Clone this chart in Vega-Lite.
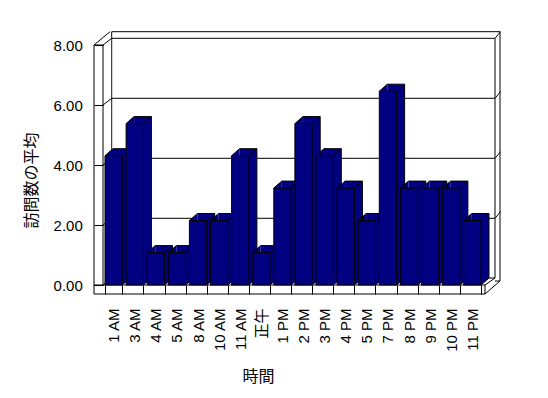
{
  "$schema": "https://vega.github.io/schema/vega-lite/v6.json",
  "width": 380,
  "height": 240,
  "autosize": {"type": "none"},
  "padding": {"left": 103, "top": 45, "right": 65, "bottom": 113},
  "background": "white",
  "config": {"view": {"stroke": null}},
  "datasets": {
    "bars": [
      {"time": "1 AM", "avg": 4.31},
      {"time": "3 AM", "avg": 5.38},
      {"time": "4 AM", "avg": 1.08},
      {"time": "5 AM", "avg": 1.08},
      {"time": "8 AM", "avg": 2.15},
      {"time": "10 AM", "avg": 2.15},
      {"time": "11 AM", "avg": 4.31},
      {"time": "正午", "avg": 1.08},
      {"time": "1 PM", "avg": 3.23},
      {"time": "2 PM", "avg": 5.38},
      {"time": "3 PM", "avg": 4.31},
      {"time": "4 PM", "avg": 3.23},
      {"time": "5 PM", "avg": 2.15},
      {"time": "7 PM", "avg": 6.46},
      {"time": "8 PM", "avg": 3.23},
      {"time": "9 PM", "avg": 3.23},
      {"time": "10 PM", "avg": 3.23},
      {"time": "11 PM", "avg": 2.15}
    ],
    "grid": [{"v": 0}, {"v": 2}, {"v": 4}, {"v": 6}, {"v": 8}],
    "mid": [{"v": 2}, {"v": 4}, {"v": 6}],
    "upper": [{"v": 2}, {"v": 4}, {"v": 6}, {"v": 8}],
    "one": [{"k": 1}]
  },
  "layer": [
    {
      "data": {"name": "one"},
      "mark": {"type": "rect", "fill": "white", "stroke": "black", "strokeWidth": 1, "xOffset": 8.7, "x2Offset": 17, "yOffset": -13.3, "y2Offset": -4},
      "encoding": {
        "x": {"value": 0}, "x2": {"value": "width"},
        "y": {"datum": 8, "type": "quantitative", "scale": {"domain": [0, 8], "nice": false}},
        "y2": {"datum": 0}
      }
    },
    {
      "data": {"name": "one"},
      "mark": {"type": "rect", "fill": "white", "x2Offset": 12, "yOffset": -7},
      "encoding": {
        "x": {"value": 0}, "x2": {"value": "width"},
        "y": {"datum": 0, "type": "quantitative"},
        "y2": {"datum": 0}
      }
    },
    {
      "data": {"name": "one"},
      "mark": {"type": "rect", "fill": "white", "stroke": "black", "strokeWidth": 1, "xOffset": 8.7, "x2Offset": 12, "yOffset": -6.7, "y2Offset": -7},
      "encoding": {
        "x": {"value": 0}, "x2": {"value": "width"},
        "y": {"datum": 8, "type": "quantitative"},
        "y2": {"datum": 0}
      }
    },
    {
      "data": {"name": "mid"},
      "mark": {"type": "rule", "stroke": "black", "strokeWidth": 1, "xOffset": 8.7, "x2Offset": 12, "yOffset": -6.7, "y2Offset": -6.7},
      "encoding": {
        "x": {"value": 0}, "x2": {"value": "width"},
        "y": {"field": "v", "type": "quantitative"},
        "y2": {"field": "v"}
      }
    },
    {
      "data": {"name": "upper"},
      "mark": {"type": "rule", "stroke": "black", "strokeWidth": 1, "xOffset": 12, "x2Offset": 17.5, "yOffset": -6.7, "y2Offset": -13.3},
      "encoding": {
        "x": {"value": "width"}, "x2": {"value": "width"},
        "y": {"field": "v", "type": "quantitative"},
        "y2": {"field": "v"}
      }
    },
    {
      "data": {"name": "one"},
      "mark": {"type": "rect", "fill": "white", "x2Offset": 8.2, "yOffset": -6.7},
      "encoding": {
        "x": {"value": 0}, "x2": {"value": 0},
        "y": {"datum": 8, "type": "quantitative"},
        "y2": {"datum": 0}
      }
    },
    {
      "data": {"name": "grid"},
      "mark": {"type": "rule", "stroke": "black", "strokeWidth": 1, "x2Offset": 8.7, "y2Offset": -6.7},
      "encoding": {
        "x": {"value": 0}, "x2": {"value": 0},
        "y": {"field": "v", "type": "quantitative"},
        "y2": {"field": "v"}
      }
    },
    {
      "data": {"name": "one"},
      "mark": {"type": "rule", "stroke": "black", "strokeWidth": 1, "xOffset": -9, "x2Offset": 7, "y2Offset": -13.3},
      "encoding": {
        "x": {"value": 0}, "x2": {"value": 0},
        "y": {"datum": 8, "type": "quantitative"},
        "y2": {"datum": 8}
      }
    },
    {
      "data": {"name": "one"},
      "mark": {"type": "rule", "stroke": "black", "strokeWidth": 1, "xOffset": 2, "x2Offset": 12, "y2Offset": -7},
      "encoding": {
        "x": {"value": "width"}, "x2": {"value": "width"},
        "y": {"datum": 0, "type": "quantitative"},
        "y2": {"datum": 0}
      }
    },
    {
      "data": {"name": "one"},
      "mark": {"type": "rule", "stroke": "black", "strokeWidth": 1, "xOffset": 2, "x2Offset": 17, "yOffset": 9, "y2Offset": -4},
      "encoding": {
        "x": {"value": "width"}, "x2": {"value": "width"},
        "y": {"datum": 0, "type": "quantitative"},
        "y2": {"datum": 0}
      }
    },
    {
      "data": {"name": "one"},
      "mark": {"type": "rect", "fill": "white", "stroke": "black", "strokeWidth": 1, "xOffset": -9, "x2Offset": 2, "y2Offset": 9},
      "encoding": {
        "x": {"value": 0}, "x2": {"value": "width"},
        "y": {"datum": 0, "type": "quantitative"},
        "y2": {"datum": 0}
      }
    },
    {
      "data": {"name": "one"},
      "mark": {"type": "rect", "fill": "white", "stroke": "black", "strokeWidth": 1, "xOffset": -9},
      "encoding": {
        "x": {"value": 0}, "x2": {"value": 0},
        "y": {"datum": 8, "type": "quantitative"},
        "y2": {"datum": 0}
      }
    },
    {
      "data": {"name": "bars"},
      "mark": {"type": "bar", "fill": "#000080", "strokeWidth": 0, "xOffset": 8, "yOffset": -7, "y2Offset": -7},
      "encoding": {
        "x": {"field": "time", "type": "nominal", "sort": null, "scale": {"paddingInner": 0.18, "paddingOuter": 0.095}, "title": "時間"},
        "y": {"field": "avg", "type": "quantitative"}
      }
    },
    {
      "data": {"name": "bars"},
      "mark": {"type": "point", "shape": "M 1 -0.875 L 1 0.875 L -1 0.875 Z", "size": 64, "filled": true, "fill": "#000080", "opacity": 1, "strokeWidth": 0, "xOffset": -4.65, "yOffset": -3.5},
      "encoding": {
        "x": {"field": "time", "type": "nominal", "sort": null, "title": "時間"},
        "y": {"field": "avg", "type": "quantitative"}
      }
    },
    {
      "data": {"name": "bars"},
      "mark": {"type": "point", "shape": "M -1 -0.875 L 1 -0.875 L -1 0.875 Z", "size": 64, "filled": true, "fill": "#000080", "opacity": 1, "strokeWidth": 0, "xOffset": 12.65, "yOffset": -3.5},
      "encoding": {
        "x": {"field": "time", "type": "nominal", "sort": null, "title": "時間"},
        "y": {"datum": 0, "type": "quantitative"}
      }
    },
    {
      "data": {"name": "bars"},
      "mark": {"type": "rule", "stroke": "black", "strokeWidth": 1, "xOffset": -0.65, "x2Offset": 16.65, "yOffset": -7, "y2Offset": -7},
      "encoding": {
        "x": {"field": "time", "type": "nominal", "sort": null, "title": "時間"},
        "x2": {"field": "time"},
        "y": {"field": "avg", "type": "quantitative"},
        "y2": {"field": "avg"}
      }
    },
    {
      "data": {"name": "bars"},
      "mark": {"type": "rule", "stroke": "black", "strokeWidth": 1, "xOffset": 16.65, "x2Offset": 16.65, "yOffset": -7, "y2Offset": -7},
      "encoding": {
        "x": {"field": "time", "type": "nominal", "sort": null, "title": "時間"},
        "x2": {"field": "time"},
        "y": {"field": "avg", "type": "quantitative"},
        "y2": {"datum": 0}
      }
    },
    {
      "data": {"name": "bars"},
      "mark": {"type": "rule", "stroke": "black", "strokeWidth": 1, "xOffset": -8.65, "x2Offset": -0.65, "y2Offset": -7},
      "encoding": {
        "x": {"field": "time", "type": "nominal", "sort": null, "title": "時間"},
        "x2": {"field": "time"},
        "y": {"field": "avg", "type": "quantitative"},
        "y2": {"field": "avg"}
      }
    },
    {
      "data": {"name": "bars"},
      "mark": {"type": "rule", "stroke": "black", "strokeWidth": 1, "xOffset": 8.65, "x2Offset": 16.65, "y2Offset": -7},
      "encoding": {
        "x": {"field": "time", "type": "nominal", "sort": null, "title": "時間"},
        "x2": {"field": "time"},
        "y": {"field": "avg", "type": "quantitative"},
        "y2": {"field": "avg"}
      }
    },
    {
      "data": {"name": "bars"},
      "mark": {"type": "rule", "stroke": "black", "strokeWidth": 1, "xOffset": 8.65, "x2Offset": 16.65, "y2Offset": -7},
      "encoding": {
        "x": {"field": "time", "type": "nominal", "sort": null, "title": "時間"},
        "x2": {"field": "time"},
        "y": {"datum": 0, "type": "quantitative"},
        "y2": {"datum": 0}
      }
    },
    {
      "data": {"name": "bars"},
      "mark": {"type": "bar", "fill": "#000080", "stroke": "black", "strokeWidth": 1},
      "encoding": {
        "x": {
          "field": "time", "type": "nominal", "sort": null,
          "axis": {
            "title": "時間",
            "labelAngle": -90, "labelAlign": "right", "labelBaseline": "middle",
            "labelPadding": 14, "ticks": true, "tickBand": "extent", "tickSize": 9, "tickColor": "black", "tickWidth": 1,
            "domain": false, "grid": false,
            "labelFont": "Liberation Sans, Noto Sans CJK JP", "labelFontSize": 15, "labelColor": "black",
            "titleFont": "Noto Sans CJK JP", "titleFontSize": 16, "titleFontWeight": "normal", "titleColor": "black",
            "titleX": 155, "titleY": 91, "titleBaseline": "middle", "titleAlign": "center",
            "zindex": 1
          }
        },
        "y": {
          "field": "avg", "type": "quantitative",
          "axis": {
            "title": "訪問数の平均",
            "values": [0, 2, 4, 6, 8], "format": ".2f", "grid": false, "domain": false,
            "ticks": true, "tickSize": 9, "tickColor": "black", "tickWidth": 1,
            "labelPadding": 11.7,
            "labelFont": "Liberation Sans", "labelFontSize": 15, "labelColor": "black",
            "titleFont": "Noto Sans CJK JP", "titleFontSize": 16, "titleFontWeight": "normal", "titleColor": "black",
            "titleX": -71.5, "titleY": 135, "titleAngle": -90, "titleBaseline": "middle", "titleAlign": "center",
            "zindex": 1
          }
        }
      }
    }
  ]
}
